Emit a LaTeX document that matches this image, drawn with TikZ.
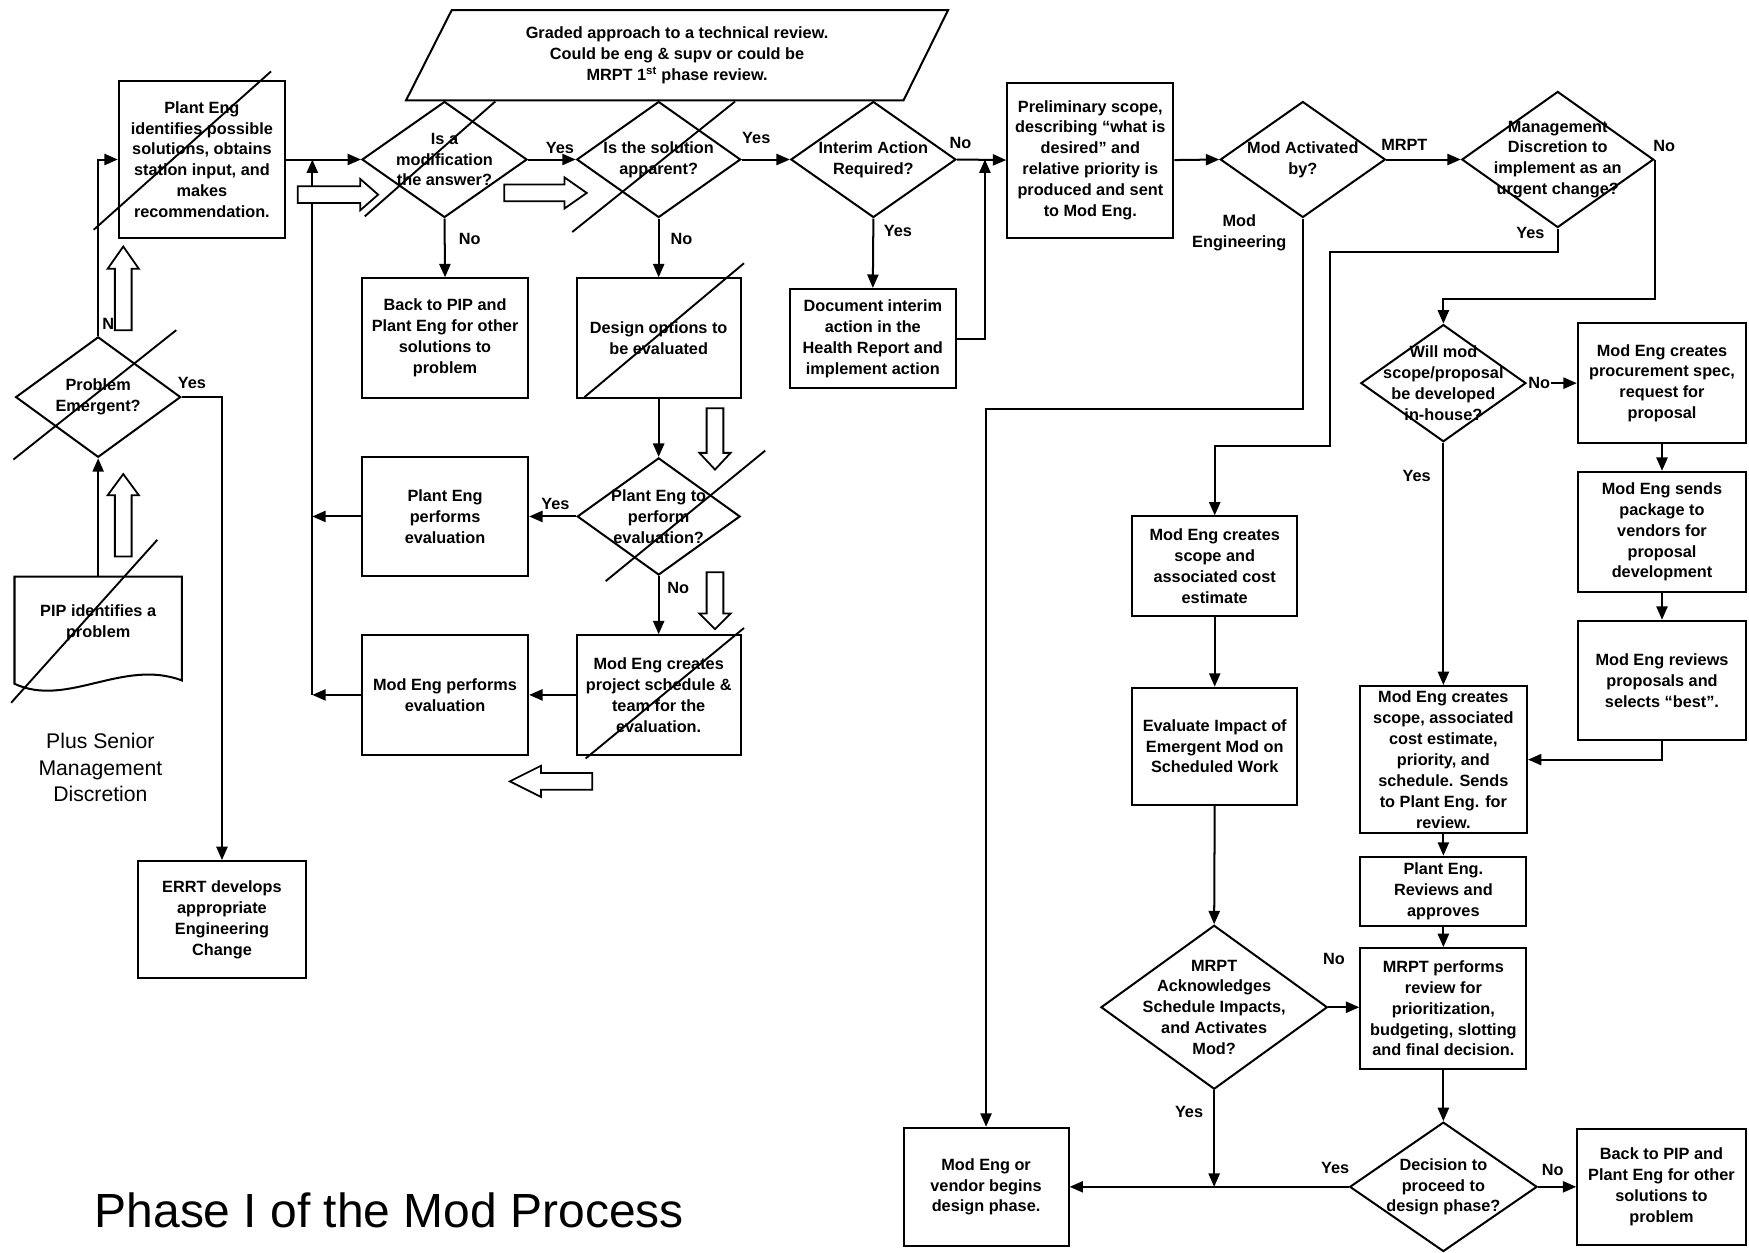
\documentclass[tikz,border=0pt]{standalone}
\usepackage{fontspec}
\setmainfont{Liberation Sans}
\usetikzlibrary{shapes.geometric,arrows.meta,positioning}
\newcommand\boxfont{\fontsize{14.6}{18.7}\selectfont\bfseries}

\begin{document}
\begin{tikzpicture}[x=1pt,y=-1pt,line width=1.8pt,
    box/.style={draw,rectangle,inner sep=0pt,align=center,font=\boxfont},
    decision/.style={draw,diamond,inner sep=0pt},
    dtext/.style={align=center,font=\boxfont,inner sep=0pt},
    lbl/.style={font=\boxfont,inner sep=1pt},
    flow/.style={-{Triangle[length=12pt,width=10pt]}},
    strike/.style={line width=1.7pt},
    pics/hollow/.style 2 args={code={
        \draw[fill=white,line width=1.6pt] (0,-7.5) -- ({#1-#2},-7.5) -- ({#1-#2},-14)
          -- (#1,0) -- ({#1-#2},14) -- ({#1-#2},7.5) -- (0,7.5) -- cycle;}}]
        \useasboundingbox (0,0) rectangle (1568,1123);
        \fill[white] (0,0) rectangle (1568,1123);
        % left column
        \draw (13,613) -- (13,517) -- (163,517) -- (163,610) .. controls (110,590) and (60,635) .. (13,613) -- cycle;
        \node[dtext] (pip) at (88,558) {PIP identifies a\\problem};
        \coordinate (pipTop) at (88,517);
        \node[decision,minimum width=148pt,minimum height=108pt] (emerg) at (88,356) {};
        \node[dtext] (emerg-t) at (emerg) {Problem\\Emergent?};
        \node[box,minimum width=149pt,minimum height=140pt] (plant) at (181,143) {Plant Eng\\identifies possible\\solutions, obtains\\station input, and\\makes\\recommendation.};
        \node[box,minimum width=150pt,minimum height=105pt] (errt) at (199,824.5) {ERRT develops\\appropriate\\Engineering\\Change};
        \node[font=\fontsize{19}{23.5}\selectfont,align=center] (senior) at (90,688) {Plus Senior\\Management\\Discretion};
        \node[font=\fontsize{43}{50}\selectfont] (title) at (349,1085) {Phase I of the Mod Process};
        % graded review
        \draw (364,90) -- (405,9) -- (850,9) -- (810,90) -- cycle;
        \node[dtext] (graded) at (607,49.5) {Graded approach to a technical review.\\Could be eng \& supv or could be\\MRPT 1\textsuperscript{st} phase review.};
        % evaluation columns
        \node[decision,minimum width=148pt,minimum height=104pt] (dmod) at (398.5,143) {};
        \node[dtext] (dmod-t) at (dmod) {Is a\\modification\\the answer?};
        \node[box,minimum width=149pt,minimum height=107pt] (back1) at (399,303) {Back to PIP and\\Plant Eng for other\\solutions to\\problem};
        \node[box,minimum width=149pt,minimum height=107pt] (pe) at (399,463) {Plant Eng\\performs\\evaluation};
        \node[box,minimum width=149pt,minimum height=107pt] (me) at (399,623) {Mod Eng performs\\evaluation};
        \node[decision,minimum width=147pt,minimum height=104pt] (dsol) at (590.5,143) {};
        \node[dtext] (dsol-t) at (dsol) {Is the solution\\apparent?};
        \node[box,minimum width=147pt,minimum height=107pt] (design) at (590.5,303) {Design options to\\be evaluated};
        \node[decision,minimum width=146pt,minimum height=105pt] (deval) at (590.5,463) {};
        \node[dtext] (deval-t) at (deval) {Plant Eng to\\perform\\evaluation?};
        \node[box,minimum width=147pt,minimum height=107pt] (sched) at (590.5,623) {Mod Eng creates\\project schedule \&\\team for the\\evaluation.};
        \node[decision,minimum width=148pt,minimum height=104pt] (dint) at (783,143) {};
        \node[dtext] (dint-t) at (dint) {Interim Action\\Required?};
        \node[box,minimum width=149pt,minimum height=89pt] (interim) at (782.5,303.5) {Document interim\\action in the\\Health Report and\\implement action};
        \coordinate (jn) at (883,143);
        % mod engineering
        \node[box,minimum width=149pt,minimum height=139pt] (prelim) at (977.5,143.5) {Preliminary scope,\\describing “what is\\desired” and\\relative priority is\\produced and sent\\to Mod Eng.};
        \node[decision,minimum width=148pt,minimum height=104pt] (dact) at (1168,143) {};
        \node[dtext] (dact-t) at (dact) {Mod Activated\\by?};
        \node[decision,minimum width=172pt,minimum height=122pt] (dmgmt) at (1396.5,143) {};
        \node[dtext] (dmgmt-t) at (dmgmt) {Management\\Discretion to\\implement as an\\urgent change?};
        \node[decision,minimum width=148pt,minimum height=105pt] (dinh) at (1294,343.5) {};
        \node[dtext] (dinh-t) at (dinh) {Will mod\\scope/proposal\\be developed\\in-house?};
        \node[box,minimum width=151pt,minimum height=107pt] (proc) at (1490,343.5) {Mod Eng creates\\procurement spec,\\request for\\proposal};
        \node[box,minimum width=151pt,minimum height=108pt] (vend) at (1490,477) {Mod Eng sends\\package to\\vendors for\\proposal\\development};
        \node[box,minimum width=151pt,minimum height=107pt] (rev) at (1490,610) {Mod Eng reviews\\proposals and\\selects “best”.};
        \node[box,minimum width=150pt,minimum height=132pt] (scope2) at (1294,681) {Mod Eng creates\\scope, associated\\cost estimate,\\priority, and\\schedule. Sends\\to Plant Eng. for\\review.};
        \node[box,minimum width=149pt,minimum height=62pt] (plantrev) at (1294,799) {Plant Eng.\\Reviews and\\approves};
        \node[box,minimum width=149pt,minimum height=108pt] (mrptrev) at (1294,904) {MRPT performs\\review for\\prioritization,\\budgeting, slotting\\and final decision.};
        \node[decision,minimum width=168pt,minimum height=116pt] (ddec) at (1294,1064) {};
        \node[dtext] (ddec-t) at (ddec) {Decision to\\proceed to\\design phase?};
        \node[box,minimum width=151pt,minimum height=104pt] (back2) at (1489.5,1064) {Back to PIP and\\Plant Eng for other\\solutions to\\problem};
        \node[box,minimum width=148pt,minimum height=89pt] (scope1) at (1089,507.5) {Mod Eng creates\\scope and\\associated cost\\estimate};
        \node[box,minimum width=148pt,minimum height=105pt] (impact) at (1089,669) {Evaluate Impact of\\Emergent Mod on\\Scheduled Work};
        \node[decision,minimum width=203pt,minimum height=147pt] (dmrpt) at (1088.5,903) {};
        \node[dtext] (dmrpt-t) at (dmrpt) {MRPT\\Acknowledges\\Schedule Impacts,\\and Activates\\Mod?};
        \node[box,minimum width=148pt,minimum height=106pt] (vendor) at (884,1064) {Mod Eng or\\vendor begins\\design phase.};
        \coordinate (retT) at (280,143);
        \coordinate (yesbend) at (1192,400);
        % connectors
        \draw[flow] (pipTop) -- (emerg.south);
        \draw[flow] (emerg.north) |- (plant.west);
        \draw[flow] (emerg.east) -| (errt.north);
        \draw[flow] (plant.east) -- (dmod.west);
        \draw[flow] (pe.west) -- (pe.west -| retT);
        \draw[flow] (me.west) -- (me.west -| retT);
        \draw[flow] (me.west -| retT) -- (retT);
        \draw[flow] (dmod.east) -- (dsol.west);
        \draw[flow] (dmod.south) -- (back1.north);
        \draw[flow] (dsol.east) -- (dint.west);
        \draw[flow] (dsol.south) -- (design.north);
        \draw[flow] (design.south) -- (deval.north);
        \draw[flow] (deval.west) -- (pe.east);
        \draw[flow] (deval.south) -- (sched.north);
        \draw[flow] (sched.west) -- (me.east);
        \draw[flow] (dint.east) -- (prelim.west);
        \draw[flow] (dint.south) -- (interim.north);
        \draw[flow] (interim.east) -| (jn);
        \draw[flow] (prelim.east) -- (dact.west);
        \draw[flow] (dact.east) -- (dmgmt.west);
        \draw[flow] (dact.south) -- ++(0,171) -| (vendor.north);
        \draw[flow] (dmgmt.south) -- ++(0,21) -| (yesbend) -| (scope1.north);
        \draw[flow] (dmgmt.east) -- ++(0,125) -| (dinh.north);
        \draw[flow] (dinh.east) -- (proc.west);
        \draw[flow] (dinh.south) -- (scope2.north);
        \draw[flow] (proc.south) -- (vend.north);
        \draw[flow] (vend.south) -- (rev.north);
        \draw[flow] (rev.south) |- (scope2.east);
        \draw[flow] (scope2.south) -- (plantrev.north);
        \draw[flow] (plantrev.south) -- (mrptrev.north);
        \draw[flow] (mrptrev.south) -- (ddec.north);
        \draw[flow] (ddec.east) -- (back2.west);
        \draw[flow] (ddec.west) -- (vendor.east);
        \draw[flow] (scope1.south) -- (impact.north);
        \draw[flow] (impact.south) -- (dmrpt.north);
        \draw[flow] (dmrpt.east) -- (dmrpt.east -| mrptrev.west);
        \draw[flow] (dmrpt.south) -- (dmrpt.south |- vendor.east);
        % labels
        \node[lbl] (l-n) at (97,290) {N};
        \node[lbl] (l-emy) at (172,343) {Yes};
        \node[lbl] (l-mody) at (502,133) {Yes};
        \node[lbl] (l-modn) at (421,214) {No};
        \node[lbl] (l-soly) at (678,124) {Yes};
        \node[lbl] (l-soln) at (611,214) {No};
        \node[lbl] (l-evy) at (498,452) {Yes};
        \node[lbl] (l-evn) at (608,527) {No};
        \node[lbl] (l-intn) at (861,128) {No};
        \node[lbl] (l-inty) at (805,207) {Yes};
        \node[lbl] (l-actm) at (1259,130) {MRPT};
        \node[lbl,align=center] (l-acte) at (1111,209) {Mod\\Engineering};
        \node[lbl] (l-mgy) at (1372,209) {Yes};
        \node[lbl] (l-mgn) at (1492,131) {No};
        \node[lbl,fill=white] (l-inhn) at (1380,343.5) {No};
        \node[lbl] (l-inhy) at (1270,427) {Yes};
        \node[lbl] (l-mrn) at (1196,860) {No};
        \node[lbl] (l-mry) at (1066,997) {Yes};
        \node[lbl] (l-decy) at (1197,1047) {Yes};
        \node[lbl] (l-decn) at (1392,1049) {No};
        % strike lines
        \draw[strike] (84,206) -- (243,64);
        \draw[strike] (12,412) -- (158,296);
        \draw[strike] (10,630) -- (141,484);
        \draw[strike] (327,194) -- (444,91);
        \draw[strike] (513,208) -- (659,91);
        \draw[strike] (524,356) -- (667,236);
        \draw[strike] (543,521) -- (686,404);
        \draw[strike] (525,680) -- (667,563);
        % hollow arrows
        \pic[rotate=90] at (110.5,499) {hollow={74}{19}};
        \pic[rotate=90] at (110.5,296) {hollow={75}{20}};
        \pic at (267,174.5) {hollow={72}{16}};
        \pic at (452,173) {hollow={74}{20}};
        \pic[rotate=-90] at (641,366) {hollow={55}{15}};
        \pic[rotate=-90] at (641,513) {hollow={51}{14}};
        \pic[rotate=180] at (531,700.5) {hollow={74}{28}};
\end{tikzpicture}
\end{document}
